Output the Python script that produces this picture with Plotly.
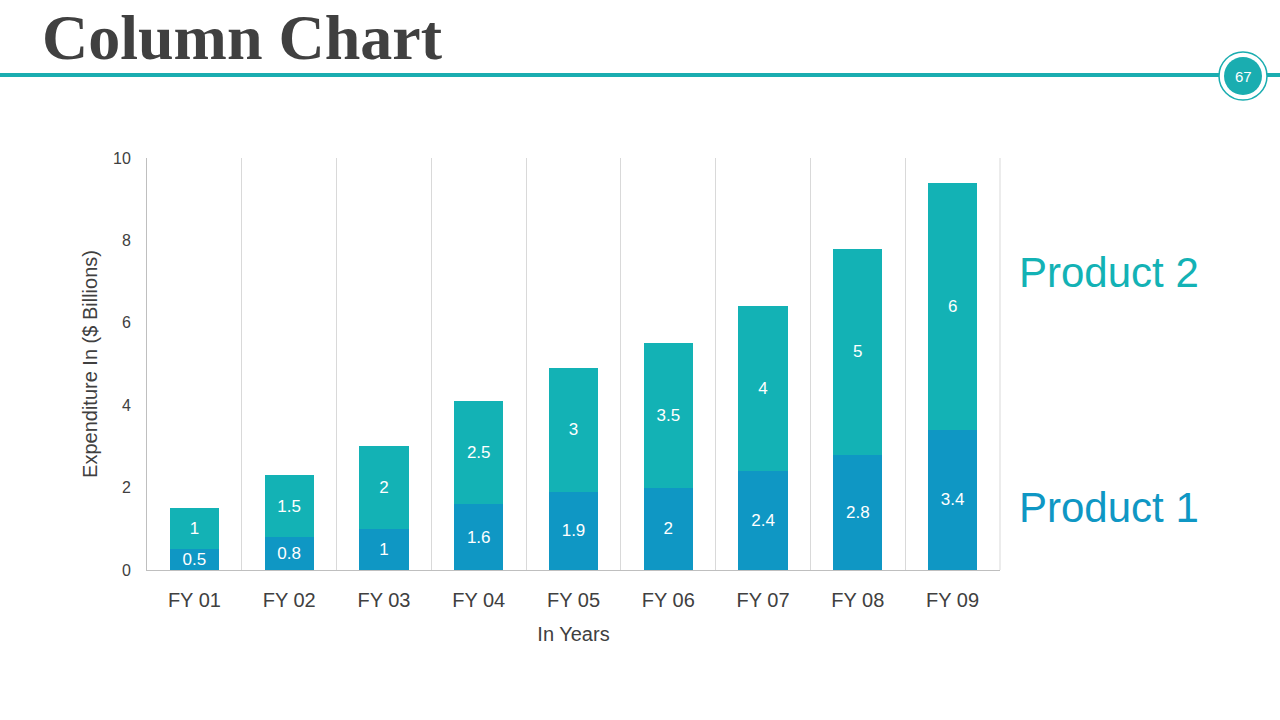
import plotly.graph_objects as go

categories = ["FY 01", "FY 02", "FY 03", "FY 04", "FY 05", "FY 06", "FY 07", "FY 08", "FY 09"]
product1 = [0.5, 0.8, 1, 1.6, 1.9, 2, 2.4, 2.8, 3.4]
product2 = [1, 1.5, 2, 2.5, 3, 3.5, 4, 5, 6]
y_ticks = [0, 2, 4, 6, 8, 10]

C1 = "#0F97C4"
C2 = "#13B2B5"
TEAL = "#1AADB0"

L, R, T, B = 147, 280, 158, 150
PW, PH = 1280 - L - R, 720 - T - B

def px_x(px):
    return (px - L) / PW

def px_y(py):
    return (720 - B - py) / PH

fig = go.Figure()
for name, vals, col in [("Product 1", product1, C1), ("Product 2", product2, C2)]:
    fig.add_trace(go.Bar(
        x=categories, y=vals, name=name, marker=dict(color=col, line=dict(width=0)),
        text=[str(v) for v in vals], textposition="inside", insidetextanchor="middle",
        constraintext="none",
        textfont=dict(family="Liberation Sans, Arial", size=17, color="white"),
        showlegend=False, hoverinfo="skip",
    ))

fig.update_layout(
    width=1280, height=720, barmode="stack", bargap=0.48,
    paper_bgcolor="white", plot_bgcolor="white",
    margin=dict(l=L, r=R, t=T, b=B),
    font=dict(family="Liberation Sans, Arial", color="#404040"),
    xaxis=dict(
        tickson="boundaries", showgrid=True, gridcolor="#D9D9D9", gridwidth=1,
        showline=True, linecolor="#BFBFBF", linewidth=1,
        ticks="", ticklabelstandoff=12,
        tickfont=dict(size=20, color="#404040"),
        title=dict(text="In Years", font=dict(size=20, color="#404040"), standoff=16),
    ),
    yaxis=dict(
        range=[0, 10], tickvals=y_ticks, showgrid=False, zeroline=False,
        showline=True, linecolor="#BFBFBF", linewidth=1, ticks="outside",
        ticklen=12, tickcolor="white",
        tickfont=dict(size=16, color="#404040"),
        title=dict(text="Expenditure In ($ Billions)", font=dict(size=20, color="#404040"), standoff=10),
    ),
)

# right border of plot area
fig.add_shape(type="line", xref="paper", yref="paper", x0=1, x1=1, y0=0, y1=1,
              line=dict(color="#D9D9D9", width=1))

# header line
fig.add_shape(type="line", xref="paper", yref="paper", x0=px_x(0), x1=px_x(1280),
              y0=px_y(75), y1=px_y(75), line=dict(color=TEAL, width=4))

# page number circle
cx, cy = 1243, 76
fig.add_shape(type="circle", xref="paper", yref="paper",
              x0=px_x(cx - 24), x1=px_x(cx + 24), y0=px_y(cy + 24), y1=px_y(cy - 24),
              fillcolor="white", line=dict(color=TEAL, width=1.5))
fig.add_shape(type="circle", xref="paper", yref="paper",
              x0=px_x(cx - 19), x1=px_x(cx + 19), y0=px_y(cy + 19), y1=px_y(cy - 19),
              fillcolor=TEAL, line=dict(width=0))
fig.add_annotation(text="67", xref="paper", yref="paper", x=px_x(cx), y=px_y(cy),
                   xanchor="center", yanchor="middle", showarrow=False,
                   font=dict(size=15, color="white", family="Liberation Sans, Arial"))

# title
fig.add_annotation(text="<b>Column Chart</b>", xref="paper", yref="paper",
                   x=px_x(40), y=px_y(37), xanchor="left", yanchor="middle", showarrow=False,
                   font=dict(size=64, color="#404040", family="Liberation Serif, Georgia, serif"))

# series labels
fig.add_annotation(text="Product 2", xref="paper", yref="paper", x=px_x(1017), y=px_y(272),
                   xanchor="left", yanchor="middle", showarrow=False,
                   font=dict(size=42, color=C2, family="Liberation Sans, Arial"))
fig.add_annotation(text="Product 1", xref="paper", yref="paper", x=px_x(1017), y=px_y(507),
                   xanchor="left", yanchor="middle", showarrow=False,
                   font=dict(size=42, color=C1, family="Liberation Sans, Arial"))

fig.write_html("out.html", config={"displayModeBar": False},
               post_script="document.body.style.margin='0';document.body.style.overflow='hidden';")
